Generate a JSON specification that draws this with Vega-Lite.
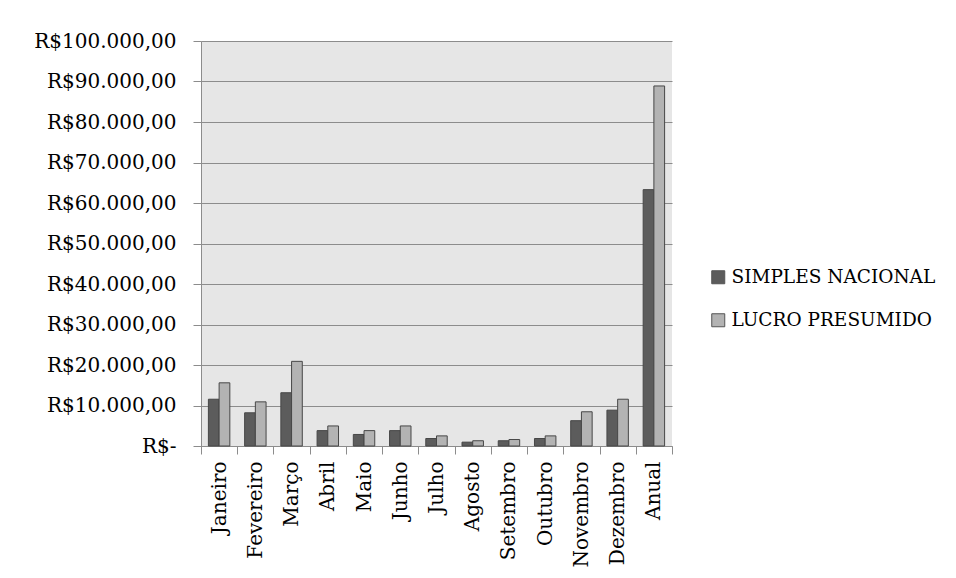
{
  "$schema": "https://vega.github.io/schema/vega-lite/v6.json",
  "width": 471,
  "height": 405,
  "autosize": {"type": "none"},
  "padding": {"left": 201, "top": 41, "right": 284, "bottom": 132},
  "background": "white",
  "config": {
    "view": {"fill": "#e6e6e6", "stroke": null},
    "font": "DejaVu Serif"
  },
  "data": {
    "values": [
      {"mes": "Janeiro", "regime": "SIMPLES NACIONAL", "valor": 11550},
      {"mes": "Janeiro", "regime": "LUCRO PRESUMIDO", "valor": 15600},
      {"mes": "Fevereiro", "regime": "SIMPLES NACIONAL", "valor": 8200},
      {"mes": "Fevereiro", "regime": "LUCRO PRESUMIDO", "valor": 10900},
      {"mes": "Março", "regime": "SIMPLES NACIONAL", "valor": 13150},
      {"mes": "Março", "regime": "LUCRO PRESUMIDO", "valor": 20900},
      {"mes": "Abril", "regime": "SIMPLES NACIONAL", "valor": 3800},
      {"mes": "Abril", "regime": "LUCRO PRESUMIDO", "valor": 4950},
      {"mes": "Maio", "regime": "SIMPLES NACIONAL", "valor": 2850},
      {"mes": "Maio", "regime": "LUCRO PRESUMIDO", "valor": 3800},
      {"mes": "Junho", "regime": "SIMPLES NACIONAL", "valor": 3800},
      {"mes": "Junho", "regime": "LUCRO PRESUMIDO", "valor": 4950},
      {"mes": "Julho", "regime": "SIMPLES NACIONAL", "valor": 1850},
      {"mes": "Julho", "regime": "LUCRO PRESUMIDO", "valor": 2500},
      {"mes": "Agosto", "regime": "SIMPLES NACIONAL", "valor": 950},
      {"mes": "Agosto", "regime": "LUCRO PRESUMIDO", "valor": 1300},
      {"mes": "Setembro", "regime": "SIMPLES NACIONAL", "valor": 1300},
      {"mes": "Setembro", "regime": "LUCRO PRESUMIDO", "valor": 1600},
      {"mes": "Outubro", "regime": "SIMPLES NACIONAL", "valor": 1850},
      {"mes": "Outubro", "regime": "LUCRO PRESUMIDO", "valor": 2500},
      {"mes": "Novembro", "regime": "SIMPLES NACIONAL", "valor": 6250},
      {"mes": "Novembro", "regime": "LUCRO PRESUMIDO", "valor": 8450},
      {"mes": "Dezembro", "regime": "SIMPLES NACIONAL", "valor": 8850},
      {"mes": "Dezembro", "regime": "LUCRO PRESUMIDO", "valor": 11550},
      {"mes": "Anual", "regime": "SIMPLES NACIONAL", "valor": 63300},
      {"mes": "Anual", "regime": "LUCRO PRESUMIDO", "valor": 88900}
    ]
  },
  "mark": {"type": "bar", "stroke": "#474747", "strokeWidth": 1},
  "encoding": {
    "x": {
      "field": "mes",
      "type": "nominal",
      "sort": ["Janeiro", "Fevereiro", "Março", "Abril", "Maio", "Junho", "Julho", "Agosto", "Setembro", "Outubro", "Novembro", "Dezembro", "Anual"],
      "scale": {"paddingInner": 0, "paddingOuter": 0},
      "axis": {
        "title": null,
        "labelAngle": -90,
        "labelAlign": "right",
        "labelBaseline": "middle",
        "labelFont": "DejaVu Serif",
        "labelFontSize": 20,
        "labelColor": "black",
        "labelPadding": 7,
        "labelOverlap": false,
        "labelLimit": 300,
        "tickBand": "extent",
        "tickSize": 8,
        "tickColor": "#8c8c8c",
        "domainColor": "#8c8c8c",
        "grid": false
      }
    },
    "xOffset": {
      "field": "regime",
      "type": "nominal",
      "sort": ["SIMPLES NACIONAL", "LUCRO PRESUMIDO"],
      "scale": {"paddingInner": 0, "paddingOuter": 0.69}
    },
    "y": {
      "field": "valor",
      "type": "quantitative",
      "scale": {"domain": [0, 100000], "nice": false},
      "axis": {
        "title": null,
        "values": [0, 10000, 20000, 30000, 40000, 50000, 60000, 70000, 80000, 90000, 100000],
        "labelExpr": "datum.value == 0 ? 'R$-' : 'R$' + join(split(join(split(join(split(format(datum.value, ',.2f'), ','), '#'), '.'), ','), '#'), '.')",
        "labelFont": "DejaVu Serif",
        "labelFontSize": 20,
        "labelColor": "black",
        "labelPadding": 17,
        "tickSize": 8,
        "tickColor": "#8c8c8c",
        "domainColor": "#8c8c8c",
        "gridColor": "#8c8c8c",
        "gridOpacity": 1,
        "labelOverlap": false
      }
    },
    "color": {
      "field": "regime",
      "type": "nominal",
      "sort": ["SIMPLES NACIONAL", "LUCRO PRESUMIDO"],
      "scale": {"domain": ["SIMPLES NACIONAL", "LUCRO PRESUMIDO"], "range": ["#5c5c5c", "#b3b3b3"]},
      "legend": {
        "title": null,
        "orient": "none",
        "legendX": 508,
        "legendY": 227,
        "symbolType": "square",
        "symbolSize": 169,
        "symbolStrokeColor": "#555555",
        "symbolStrokeWidth": 1,
        "labelFont": "DejaVu Serif",
        "labelFontSize": 18.5,
        "labelColor": "black",
        "labelOffset": 4,
        "labelLimit": 400,
        "rowPadding": 24
      }
    }
  }
}
